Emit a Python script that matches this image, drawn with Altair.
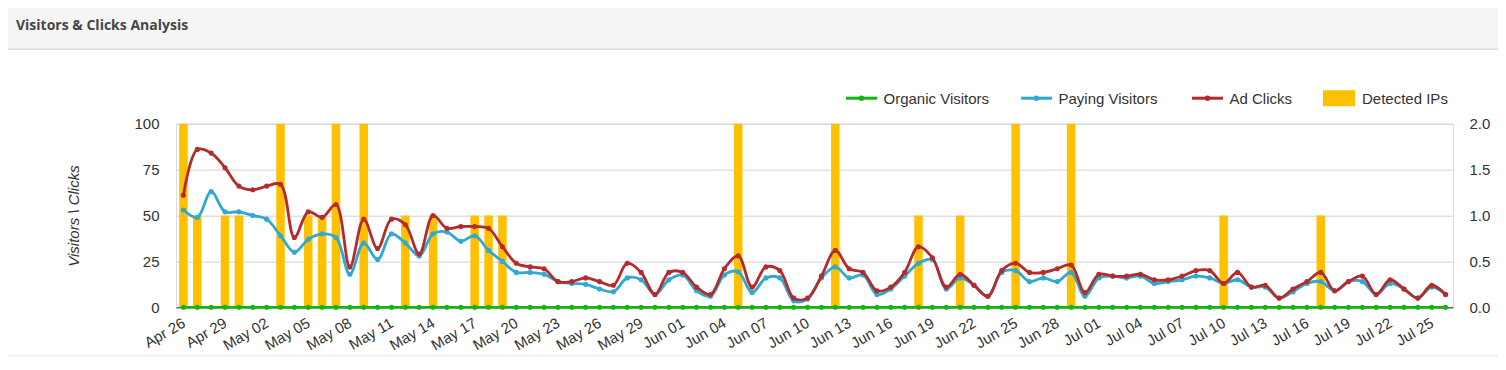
import altair as alt
import pandas as pd

# ---------------- data ----------------
dates = pd.date_range("2024-04-26", "2024-07-26", freq="D")
tick_dates = pd.date_range("2024-04-26", "2024-07-25", freq="3D")

organic = [
    0, 0, 0, 0, 0,
    0, 0, 0, 0, 0, 0, 0, 0, 0, 0, 0, 0, 0, 0, 0, 0, 0, 0, 0, 0, 0, 0, 0, 0, 0, 0, 0, 0, 0, 0, 0,
    0, 0, 0, 0, 0, 0, 0, 0, 0, 0, 0, 0, 0, 0, 0, 0, 0, 0, 0, 0, 0, 0, 0, 0, 0, 0, 0, 0, 0, 0,
    0, 0, 0, 0, 0, 0, 0, 0, 0, 0, 0, 0, 0, 0, 0, 0, 0, 0, 0, 0, 0, 0, 0, 0, 0, 0,
]
paying = [
    53, 49, 63, 52, 52,
    50, 48, 39, 30, 37, 40, 38, 18, 35, 26, 40, 35, 28, 40, 41, 36, 39, 31, 25, 19, 19, 18, 14, 13, 12.5, 10, 8.5, 16, 15, 7, 15,
    17.6, 9, 6, 17.6, 19.4, 8, 16, 16, 3.5, 4.5, 16, 22, 16, 17.6, 7, 10, 17, 24, 26, 10, 16, 12, 6, 19, 20, 14, 16, 14, 19, 6,
    16, 17, 16, 17, 13, 14, 15, 17, 16, 13, 15, 11, 11, 5, 8.5, 13, 14, 9, 14, 14, 7, 13, 10, 5, 11, 7,
]
ad_clicks = [
    61, 86, 84, 76, 66,
    64, 66, 67, 38, 52, 49, 56, 22, 48, 32, 48, 45, 29, 50, 43, 44, 44, 43, 33, 24, 22, 21, 14, 14, 16, 14, 12, 24, 19, 7, 19,
    19, 11, 7, 21, 28, 11, 22, 20, 5, 5, 17, 31, 21, 19, 9, 11, 19, 33, 27, 11, 18, 12, 6, 20, 24, 19, 19, 21, 23, 8,
    18, 17, 17, 18, 15, 15, 17, 20, 20, 13, 19, 11, 12, 5, 10, 14, 19, 9, 14, 17, 7, 15, 10, 5, 12, 7,
]
detected_ips = [
    2, 1, 0, 1, 1,
    0, 0, 2, 0, 1, 1, 2, 0, 2, 0, 0, 1, 0, 1, 0, 0, 1, 1, 1, 0, 0, 0, 0, 0, 0, 0, 0, 0, 0, 0, 0,
    0, 0, 0, 0, 2, 0, 0, 0, 0, 0, 0, 2, 0, 0, 0, 0, 0, 1, 0, 0, 1, 0, 0, 0, 2, 0, 0, 0, 2, 0,
    0, 0, 0, 0, 0, 0, 0, 0, 0, 1, 0, 0, 0, 0, 0, 0, 1, 0, 0, 0, 0, 0, 0, 0, 0, 0,
]
series_names = ["Organic Visitors", "Paying Visitors", "Ad Clicks", "Detected IPs"]
left_ticks = [0, 25, 50, 75, 100]
right_ticks = [0, 0.5, 1.0, 1.5, 2.0]

df = pd.DataFrame({
    "date": dates,
    "organic": organic,
    "paying": paying,
    "clicks": ad_clicks,
    "ips": detected_ips,
})

# ---------------- styles ----------------
GREEN = "#14b414"
BLUE = "#2fa8d2"
RED = "#b52a2a"
ORANGE = "#ffc000"
TEXT = "#333333"
FONT = "Liberation Sans"

PLOT_W = 1277
PLOT_H = 183.6

x_enc = alt.X(
    "date:T",
    scale=alt.Scale(
        domain=[
            alt.DateTime(year=2024, month=4, date=25, hours=11, minutes=10),
            alt.DateTime(year=2024, month=7, date=26, hours=12, minutes=50),
        ],
        nice=False,
        padding=0,
    ),
    axis=alt.Axis(
        values=[alt.DateTime(year=d.year, month=d.month, date=d.day) for d in tick_dates],
        format="%b %d",
        labelAngle=-30,
        labelAlign="right",
        labelBaseline="middle",
        labelPadding=14,
        labelFontSize=15,
        labelColor=TEXT,
        labelFont=FONT,
        labelOverlap=False,
        labelFlush=False,
        grid=False,
        ticks=False,
        domainColor="#333333",
        domainWidth=1,
        title=None,
    ),
)

left_axis = alt.Axis(
    values=left_ticks,
    grid=True,
    gridColor="#d3d3d3",
    gridWidth=1,
    domain=False,
    ticks=False,
    labelPadding=17,
    labelFontSize=15,
    labelColor=TEXT,
    labelFont=FONT,
    title="Visitors \\ Clicks",
    titleFont=FONT,
    titleFontSize=15,
    titleFontStyle="italic",
    titleFontWeight="normal",
    titleColor=TEXT,
    titleAngle=270,
    titleX=-103,
    titleY=PLOT_H / 2,
    titleAlign="center",
    titleBaseline="middle",
)
left_scale = alt.Scale(domain=[0, 100], nice=False, zero=True)

bars = alt.Chart(df).mark_bar(color=ORANGE, width=8.5).encode(
    x=x_enc,
    y=alt.Y(
        "ips:Q",
        scale=alt.Scale(domain=[0, 2], nice=False),
        axis=alt.Axis(
            orient="right",
            values=right_ticks,
            format=".1f",
            grid=False,
            domain=False,
            ticks=False,
            labelPadding=16,
            labelFontSize=15,
            labelColor=TEXT,
            labelFont=FONT,
            title=None,
        ),
    ),
)


def series_line(field, color, width):
    return alt.Chart(df).mark_line(
        color=color,
        strokeWidth=width,
        interpolate="catmull-rom",
        point=alt.OverlayMarkDef(filled=True, size=26, color=color, opacity=1),
    ).encode(
        x=x_enc,
        y=alt.Y(f"{field}:Q", scale=left_scale, axis=left_axis),
    )


lines = alt.layer(
    series_line("organic", GREEN, 2.5),
    series_line("paying", BLUE, 2.8),
    series_line("clicks", RED, 2.8),
)

# ---------------- legend (manual) ----------------
LEG_Y = -25.5
legend_layers = []
line_entries = [(series_names[0], GREEN, 670), (series_names[1], BLUE, 845), (series_names[2], RED, 1016)]
for name, color, x0 in line_entries:
    ldf = pd.DataFrame({"label": [name]})
    legend_layers.append(
        alt.Chart(ldf).mark_rule(color=color, strokeWidth=3).encode(
            x=alt.value(x0), x2=alt.value(x0 + 31), y=alt.value(LEG_Y)
        )
    )
    legend_layers.append(
        alt.Chart(ldf).mark_circle(color=color, size=30, opacity=1).encode(
            x=alt.value(x0 + 15.5), y=alt.value(LEG_Y)
        )
    )
    legend_layers.append(
        alt.Chart(ldf).mark_text(
            align="left", baseline="middle", fontSize=15, font=FONT, color=TEXT
        ).encode(x=alt.value(x0 + 37.5), y=alt.value(LEG_Y + 0.5), text="label:N")
    )

ipdf = pd.DataFrame({"label": [series_names[3]]})
legend_layers.append(
    alt.Chart(ipdf).mark_rect(color=ORANGE).encode(
        x=alt.value(1147), x2=alt.value(1179), y=alt.value(LEG_Y - 8), y2=alt.value(LEG_Y + 8)
    )
)
legend_layers.append(
    alt.Chart(ipdf).mark_text(
        align="left", baseline="middle", fontSize=15, font=FONT, color=TEXT
    ).encode(x=alt.value(1186), y=alt.value(LEG_Y + 0.5), text="label:N")
)

# ---------------- panel header ----------------
hdf = pd.DataFrame({"label": ["Visitors & Clicks Analysis"]})
header_bg = alt.Chart(hdf).mark_rect(color="#f5f5f5").encode(
    x=alt.value(-168), x2=alt.value(1322), y=alt.value(-115.7), y2=alt.value(-74.7)
)
header_line = alt.Chart(hdf).mark_rule(color="#dddddd", strokeWidth=1.5).encode(
    x=alt.value(-168), x2=alt.value(1322), y=alt.value(-74.5)
)
header_text = alt.Chart(hdf).mark_text(
    align="left", baseline="alphabetic", font="Open Sans", fontWeight="bold",
    fontSize=14, color="#464646"
).encode(x=alt.value(-160), y=alt.value(-94.2), text="label:N")
bottom_line = alt.Chart(hdf).mark_rule(color="#eeeeee", strokeWidth=1.5).encode(
    x=alt.value(-168), x2=alt.value(1322), y=alt.value(232)
)

chart = alt.layer(
    header_bg, header_line, header_text, bottom_line,
    bars, lines,
    *legend_layers,
).resolve_scale(
    y="independent"
).properties(
    width=PLOT_W,
    height=PLOT_H,
    autosize=alt.AutoSizeParams(type="none"),
    padding={"left": 168, "top": 115.7, "right": 45, "bottom": 50.7},
    background="white",
).configure_view(
    stroke=None
).configure(
    font=FONT
)

chart.save("out.html", embed_options={"renderer": "svg", "actions": False})
